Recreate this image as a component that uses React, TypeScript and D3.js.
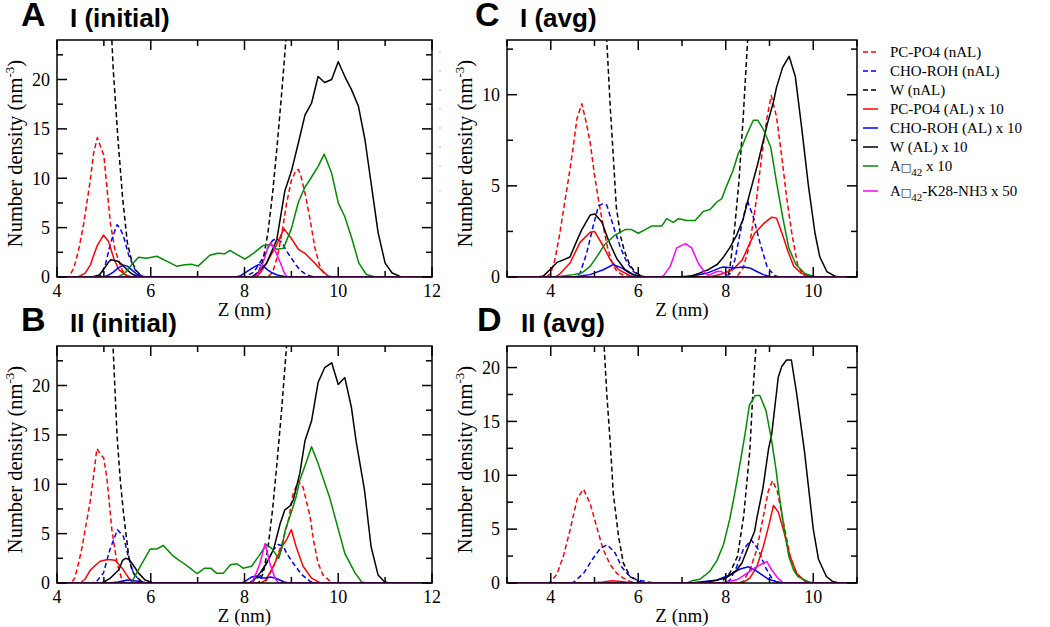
import React from 'react';
import * as d3 from 'd3';

type Pts = [number, number][];

// ---------- Panel A : I (initial) ----------
const A_pcNAL: Pts = [[4,0],[4.25,0],[4.36,0.9],[4.46,2.7],[4.57,5.4],[4.71,9.8],[4.78,12.5],[4.86,14.1],[4.93,13.2],[5.0,12.3],[5.05,9.8],[5.14,5.4],[5.24,2.7],[5.39,0.7],[5.5,0],[8.5,0],[8.6,0.5],[8.7,2],[8.8,4.5],[8.9,7.5],[9.0,9.8],[9.1,10.8],[9.15,10.9],[9.2,10.3],[9.3,8.3],[9.4,5.8],[9.5,3],[9.6,1.2],[9.7,0.3],[9.8,0],[12,0]];
const A_choNAL: Pts = [[4,0],[4.9,0],[4.94,0.2],[5.04,1.4],[5.14,3.4],[5.28,5.3],[5.35,4.9],[5.42,4.1],[5.53,2.2],[5.67,0.7],[5.81,0.05],[5.9,0],[8.0,0],[8.2,0.5],[8.4,2],[8.5,3],[8.6,3.7],[8.68,3.9],[8.8,3.5],[8.9,2.6],[9.0,1.9],[9.1,1.2],[9.2,0.65],[9.3,0.3],[9.4,0.1],[9.5,0],[12,0]];
const A_wNAL: Pts = [[4.9,45],[5.0,36],[5.1,29],[5.17,24],[5.2,21],[5.3,14],[5.4,8],[5.5,3.5],[5.6,1.5],[5.7,0.6],[5.8,0.1],[5.9,0],[8.2,0],[8.3,0.5],[8.4,1.8],[8.5,4.5],[8.6,8.5],[8.7,13.5],[8.8,19],[8.9,25],[9.0,32]];
const A_pcAL: Pts = [[4,0],[4.45,0],[4.6,0.4],[4.71,1.2],[4.85,3.1],[4.99,4.25],[5.1,3.6],[5.21,1.9],[5.32,0.74],[5.46,0.2],[5.6,0],[8.25,0],[8.35,0.5],[8.47,1.4],[8.69,3.3],[8.84,4.9],[9.0,3.9],[9.15,2.8],[9.29,2.4],[9.47,1.55],[9.65,0.64],[9.79,0.1],[9.9,0],[12,0]];
const A_choAL: Pts = [[4,0],[5.0,0],[5.1,0.2],[5.2,0.5],[5.3,0.9],[5.42,1.2],[5.5,1.1],[5.6,0.7],[5.7,0.3],[5.8,0.05],[5.9,0],[7.8,0],[7.9,0.1],[8.0,0.4],[8.1,0.7],[8.2,1.0],[8.3,1.25],[8.4,1.1],[8.5,0.7],[8.6,0.4],[8.7,0.2],[8.8,0.1],[8.9,0],[12,0]];
const A_wAL: Pts = [[4,0],[4.75,0],[4.9,0.2],[5.0,0.8],[5.1,1.5],[5.15,1.75],[5.3,1.6],[5.4,1.2],[5.5,0.7],[5.6,0.3],[5.7,0.1],[5.8,0],[8.15,0],[8.3,0.5],[8.47,1.4],[8.69,3.8],[8.86,8.7],[9.0,10.7],[9.15,13.6],[9.29,16.4],[9.43,17.6],[9.57,20.3],[9.71,19.7],[9.86,20.0],[10.0,21.8],[10.14,20.3],[10.28,19.0],[10.43,17.3],[10.57,13.9],[10.71,9.2],[10.85,4.5],[11.0,1.4],[11.15,0.4],[11.32,0.05],[11.4,0],[12,0]];
const A_green: Pts = [[4,0],[5.3,0],[5.45,0.4],[5.6,1.3],[5.74,2.0],[5.91,1.9],[6.13,2.1],[6.34,1.6],[6.55,1.1],[6.73,1.25],[6.87,1.3],[7.01,1.1],[7.26,2.2],[7.43,2.4],[7.58,2.35],[7.69,2.7],[7.83,2.3],[8.01,1.8],[8.19,2.4],[8.4,3.2],[8.55,3.3],[8.69,2.8],[8.83,2.9],[9.0,4.9],[9.15,7.6],[9.29,9.1],[9.4,9.9],[9.57,11.2],[9.7,12.45],[9.86,10.5],[10.0,7.5],[10.14,6.1],[10.29,3.9],[10.44,1.4],[10.6,0.25],[10.75,0.05],[10.9,0],[12,0]];
const A_mag: Pts = [[4,0],[8.2,0],[8.3,0.4],[8.4,1.5],[8.5,3.0],[8.56,3.5],[8.65,2.7],[8.76,1.5],[8.86,0.3],[8.92,0],[12,0]];

// ---------- Panel B : II (initial) ----------
const B_pcNAL: Pts = [[4,0],[4.3,0],[4.38,0.5],[4.46,2.0],[4.53,3.5],[4.6,5.4],[4.7,8.0],[4.78,10.8],[4.85,13.6],[4.92,13.1],[5.0,12.6],[5.07,10.4],[5.17,5.4],[5.28,2.0],[5.38,0.4],[5.45,0],[8.4,0],[8.47,0.3],[8.62,1.7],[8.8,4.0],[8.94,6.4],[9.04,9.1],[9.15,10.3],[9.25,9.7],[9.4,6.7],[9.47,4.4],[9.57,2.0],[9.67,0.85],[9.83,0.16],[9.9,0],[12,0]];
const B_choNAL: Pts = [[4,0],[4.75,0],[4.85,0.2],[4.99,1.0],[5.13,3.4],[5.29,5.4],[5.42,4.7],[5.52,2.7],[5.63,1.0],[5.77,0.2],[5.9,0],[8.1,0],[8.19,0.2],[8.33,0.7],[8.47,2.0],[8.62,3.4],[8.72,3.9],[8.83,3.7],[8.9,3.0],[9.04,2.0],[9.22,0.85],[9.4,0.16],[9.5,0],[12,0]];
const B_wNAL: Pts = [[4.9,48],[5.0,40],[5.1,31],[5.2,23.5],[5.28,15],[5.35,10.4],[5.42,7.0],[5.53,2.7],[5.6,1.3],[5.67,0.7],[5.8,0.2],[5.9,0],[8.3,0],[8.4,1.0],[8.5,3.5],[8.6,7.5],[8.7,12.5],[8.8,18],[8.9,24.2],[9.0,31]];
const B_pcAL: Pts = [[4,0],[4.5,0],[4.6,0.4],[4.71,1.3],[4.82,1.8],[4.92,2.2],[5.06,2.35],[5.15,2.35],[5.24,2.3],[5.39,1.5],[5.53,0.5],[5.65,0],[8.35,0],[8.45,0.3],[8.62,1.7],[8.8,3.7],[8.9,4.4],[9.0,5.4],[9.1,3.7],[9.25,1.7],[9.43,0.5],[9.6,0.06],[9.7,0],[12,0]];
const B_choAL: Pts = [[4,0],[5.1,0],[5.3,0.1],[5.5,0.3],[5.7,0.2],[5.9,0],[7.95,0],[8.05,0.3],[8.15,0.6],[8.25,0.7],[8.35,0.5],[8.45,0.5],[8.55,0.6],[8.65,0.5],[8.75,0.3],[8.85,0.1],[8.95,0],[12,0]];
const B_wAL: Pts = [[4,0],[4.95,0],[5.0,0.1],[5.14,0.5],[5.32,1.34],[5.4,2.3],[5.46,2.5],[5.53,2.4],[5.6,2.0],[5.74,1.0],[5.88,0.3],[6.03,0.05],[6.1,0],[8.1,0],[8.2,0.3],[8.33,1.0],[8.47,2.0],[8.62,3.4],[8.76,6.0],[8.86,7.4],[8.97,7.8],[9.04,8.4],[9.18,11.1],[9.29,14.4],[9.43,16.4],[9.57,20.3],[9.71,21.8],[9.86,22.3],[10.0,20.1],[10.14,20.8],[10.28,17.8],[10.38,14.4],[10.56,9.4],[10.7,3.7],[10.85,0.8],[10.99,0.1],[11.1,0],[12,0]];
const B_green: Pts = [[4,0],[5.56,0],[5.6,0.16],[5.78,1.7],[5.99,3.45],[6.13,3.45],[6.27,3.8],[6.45,2.85],[6.59,2.35],[6.7,2.0],[6.84,1.5],[6.99,0.94],[7.15,1.5],[7.28,1.5],[7.4,1.0],[7.55,1.0],[7.7,1.85],[7.84,1.95],[7.97,1.5],[8.15,1.7],[8.3,2.7],[8.47,3.9],[8.58,3.5],[8.73,2.5],[8.8,3.6],[8.87,5.4],[9.0,7.2],[9.1,8.7],[9.18,10.4],[9.3,12.0],[9.43,13.8],[9.57,12.1],[9.82,8.6],[10.14,3.0],[10.36,1.0],[10.5,0.1],[10.6,0],[12,0]];
const B_mag: Pts = [[4,0],[8.15,0],[8.25,1.0],[8.33,2.0],[8.44,4.0],[8.54,2.0],[8.65,0.5],[8.72,0],[12,0]];

// ---------- Panel C : I (avg) ----------
const C_pcNAL: Pts = [[3,0],[3.9,0],[4.0,0.2],[4.1,1.0],[4.2,2.3],[4.3,3.8],[4.4,5.3],[4.5,6.9],[4.6,8.7],[4.71,9.5],[4.8,8.6],[4.9,7.4],[5.0,5.6],[5.1,4.1],[5.2,2.8],[5.3,1.6],[5.4,0.8],[5.5,0.35],[5.65,0.1],[5.85,0],[8.25,0],[8.4,0.5],[8.55,1.8],[8.71,4.4],[8.82,6.6],[8.94,8.7],[9.04,9.95],[9.16,8.8],[9.28,6.6],[9.39,4.4],[9.51,2.4],[9.64,0.7],[9.77,0.1],[9.9,0],[11,0]];
const C_choNAL: Pts = [[3,0],[4.55,0],[4.67,0.2],[4.82,1.3],[4.97,2.8],[5.09,3.9],[5.17,4.0],[5.28,3.95],[5.43,2.8],[5.58,1.7],[5.74,0.8],[5.89,0.3],[6.04,0.07],[6.15,0],[8.0,0],[8.1,0.2],[8.21,0.95],[8.36,2.8],[8.49,4.2],[8.63,3.3],[8.78,1.9],[8.94,0.6],[9.09,0.13],[9.2,0],[11,0]];
const C_wNAL: Pts = [[5.0,25],[5.1,20],[5.2,16],[5.28,13],[5.36,9.3],[5.42,7],[5.5,3.8],[5.6,2.2],[5.68,1.45],[5.8,0.7],[5.9,0.35],[6.0,0.15],[6.15,0],[8.05,0],[8.1,0.6],[8.2,2.6],[8.3,5.2],[8.4,8.8],[8.5,13],[8.6,18],[8.7,24]];
const C_pcAL: Pts = [[3,0],[4.1,0],[4.2,0.15],[4.44,0.77],[4.67,1.9],[4.9,2.46],[5.0,2.5],[5.2,1.7],[5.36,0.95],[5.55,0.4],[5.81,0.07],[6.0,0],[7.6,0],[7.8,0.1],[7.95,0.2],[8.16,0.4],[8.38,0.95],[8.52,1.7],[8.66,2.4],[8.88,2.96],[9.05,3.28],[9.16,3.23],[9.3,2.3],[9.41,1.5],[9.55,0.6],[9.73,0.2],[9.93,0.04],[10.05,0],[11,0]];
const C_choAL: Pts = [[3,0],[4.5,0],[4.9,0.13],[5.2,0.4],[5.43,0.68],[5.62,0.5],[5.81,0.2],[6.0,0.04],[6.1,0],[7.1,0],[7.56,0.2],[7.87,0.5],[7.95,0.55],[8.17,0.5],[8.4,0.55],[8.55,0.5],[8.71,0.3],[8.86,0.13],[9.0,0.03],[9.1,0],[11,0]];
const C_wAL: Pts = [[3,0],[3.7,0],[3.83,0.05],[3.98,0.4],[4.14,0.8],[4.3,0.95],[4.44,1.1],[4.58,1.9],[4.71,2.6],[4.9,3.4],[5.01,3.45],[5.17,3.0],[5.32,2.0],[5.51,1.0],[5.7,0.4],[5.89,0.13],[6.12,0],[6.9,0],[7.2,0.05],[7.38,0.2],[7.6,0.4],[7.81,0.7],[7.95,1.1],[8.09,1.6],[8.25,2.3],[8.4,3.2],[8.55,4.6],[8.73,6.2],[8.86,7.5],[8.95,8.4],[9.09,9.6],[9.16,10.4],[9.3,11.5],[9.45,12.1],[9.59,11.0],[9.74,8.1],[9.89,5.0],[10.04,2.4],[10.15,1.1],[10.31,0.3],[10.5,0.04],[10.6,0],[11,0]];
const C_green: Pts = [[3,0],[4.1,0],[4.52,0.13],[4.71,0.22],[4.9,0.58],[5.05,1.1],[5.24,1.8],[5.47,2.3],[5.7,2.6],[5.85,2.6],[6.0,2.4],[6.16,2.6],[6.31,2.8],[6.54,2.8],[6.65,3.2],[6.8,3.0],[6.92,3.2],[7.11,3.1],[7.3,3.1],[7.49,3.6],[7.64,3.7],[7.79,4.1],[7.91,4.3],[8.02,5.0],[8.16,5.8],[8.29,6.8],[8.38,7.2],[8.48,7.8],[8.63,8.6],[8.73,8.6],[8.86,8.1],[9.03,7.1],[9.16,5.2],[9.3,3.3],[9.44,1.6],[9.6,0.7],[9.8,0.2],[10.0,0.04],[10.1,0],[11,0]];
const C_mag: Pts = [[3,0],[6.5,0],[6.57,0.05],[6.73,0.58],[6.88,1.6],[7.0,1.75],[7.09,1.82],[7.22,1.6],[7.37,0.77],[7.53,0.22],[7.6,0.08],[7.7,0.2],[7.8,0.3],[7.9,0.3],[8.0,0.15],[8.1,0],[11,0]];

// ---------- Panel D : II (avg) ----------
const D_pcNAL: Pts = [[3,0],[3.9,0],[3.98,0.06],[4.14,0.8],[4.29,2.5],[4.44,4.9],[4.61,7.9],[4.75,8.7],[4.9,7.4],[5.05,5.2],[5.2,3.1],[5.36,1.7],[5.51,0.9],[5.66,0.46],[5.81,0.15],[5.96,0],[8.3,0],[8.4,0.15],[8.55,1.2],[8.71,3.1],[8.86,6.2],[8.97,8.5],[9.07,9.5],[9.18,8.5],[9.32,5.6],[9.47,2.5],[9.62,0.9],[9.81,0.15],[10.0,0],[11,0]];
const D_choNAL: Pts = [[3,0],[4.45,0],[4.52,0.06],[4.75,0.9],[4.97,2.3],[5.13,3.2],[5.29,3.55],[5.47,2.8],[5.62,1.5],[5.77,0.77],[5.96,0.3],[6.27,0.06],[6.5,0],[8.0,0],[8.1,0.3],[8.25,1.5],[8.4,3.1],[8.58,4.0],[8.75,3.1],[8.9,1.5],[9.05,0.46],[9.16,0.06],[9.25,0],[11,0]];
const D_wNAL: Pts = [[5.0,36],[5.1,29],[5.22,22],[5.28,17.6],[5.36,13],[5.43,8.3],[5.55,4.3],[5.66,1.85],[5.81,0.6],[6.0,0.15],[6.2,0],[7.9,0],[7.95,0.3],[8.09,0.9],[8.27,2.5],[8.41,6.2],[8.55,12.3],[8.62,17.6],[8.69,21.9],[8.75,26]];
const D_pcAL: Pts = [[3,0],[4.9,0],[5.2,0.1],[5.4,0.2],[5.6,0.15],[5.9,0],[8.3,0],[8.4,0.06],[8.55,0.46],[8.71,1.5],[8.86,3.4],[9.0,5.6],[9.09,7.2],[9.2,6.6],[9.32,4.9],[9.47,2.5],[9.62,0.9],[9.77,0.3],[9.93,0],[11,0]];
const D_choAL: Pts = [[3,0],[7.18,0],[7.79,0.25],[8.1,0.77],[8.33,1.3],[8.52,1.5],[8.67,1.2],[8.82,0.77],[8.97,0.37],[9.13,0.15],[9.32,0],[11,0]];
const D_wAL: Pts = [[3,0],[7.4,0],[7.49,0.06],[7.79,0.25],[8.02,0.5],[8.25,1.2],[8.37,1.85],[8.55,3.7],[8.66,4.8],[8.71,6.0],[8.85,8.8],[8.98,12.5],[9.05,13.8],[9.2,19.1],[9.28,20.1],[9.39,20.7],[9.5,20.7],[9.62,17.6],[9.8,12.2],[10.0,5.0],[10.12,2.2],[10.3,0.6],[10.44,0.15],[10.6,0],[11,0]];
const D_green: Pts = [[3,0],[7.1,0],[7.23,0.2],[7.41,0.35],[7.52,0.7],[7.64,1.1],[7.8,2.1],[7.95,3.6],[8.09,5.9],[8.2,8.2],[8.33,11.2],[8.44,13.8],[8.54,16.5],[8.67,17.4],[8.78,17.4],[8.92,16.0],[9.05,13.2],[9.15,10.5],[9.22,8.2],[9.31,5.7],[9.44,2.5],[9.55,1.2],[9.65,0.6],[9.87,0.15],[10.0,0],[11,0]];
const D_mag: Pts = [[3,0],[7.85,0],[8.0,0.1],[8.25,0.3],[8.37,0.6],[8.48,0.9],[8.66,1.4],[8.8,1.7],[8.94,2.0],[9.05,1.2],[9.19,0.46],[9.3,0.06],[9.35,0],[11,0]];

// ---------- legend / styles ----------
const LEGEND_LABELS = ['PC-PO4 (nAL)', 'CHO-ROH (nAL)', 'W (nAL)', 'PC-PO4 (AL) x 10', 'CHO-ROH (AL) x 10', 'W (AL) x 10', 'A\u25A142 x 10', 'A\u25A142-K28-NH3 x 50'];
const SERIES_COLORS = ['#ff0000', '#0000ff', '#000000', '#ff0000', '#0000ff', '#000000', '#008c00', '#ff00ff'];
const SERIES_DASHED = [true, true, true, false, false, false, false, false];

const X_TICKS_AB = [4, 6, 8, 10, 12];
const X_MINOR_AB = [5, 7, 9, 11];
const X_TICKS_CD = [4, 6, 8, 10];
const X_MINOR_CD = [3, 5, 7, 9, 11];
const Y_TICKS_AB = [0, 5, 10, 15, 20];
const Y_MINOR_AB = [2.5, 7.5, 12.5, 17.5, 22.5];
const Y_TICKS_C = [0, 5, 10];
const Y_MINOR_C = [2.5, 7.5, 12.5];
const Y_TICKS_D = [0, 5, 10, 15, 20];
const Y_MINOR_D = [2.5, 7.5, 12.5, 17.5];

interface PanelDef {
  id: string; letter: string; title: string;
  left: number; top: number; right: number; bottom: number;
  xDomain: [number, number]; yDomain: [number, number];
  xMajor: number[]; xMinor: number[]; yMajor: number[]; yMinor: number[];
  series: Pts[];
  letterX: number; titleX: number; headY: number;
}

const PANELS: PanelDef[] = [
  { id: 'A', letter: 'A', title: 'I (initial)', left: 57, top: 40, right: 432, bottom: 277, xDomain: [4, 12], yDomain: [0, 24],
    xMajor: X_TICKS_AB, xMinor: X_MINOR_AB, yMajor: Y_TICKS_AB, yMinor: Y_MINOR_AB,
    series: [A_pcNAL, A_choNAL, A_wNAL, A_pcAL, A_choAL, A_wAL, A_green, A_mag], letterX: 21, titleX: 70, headY: 26 },
  { id: 'B', letter: 'B', title: 'II (initial)', left: 57, top: 346, right: 432, bottom: 583, xDomain: [4, 12], yDomain: [0, 24],
    xMajor: X_TICKS_AB, xMinor: X_MINOR_AB, yMajor: Y_TICKS_AB, yMinor: Y_MINOR_AB,
    series: [B_pcNAL, B_choNAL, B_wNAL, B_pcAL, B_choAL, B_wAL, B_green, B_mag], letterX: 21, titleX: 70, headY: 331 },
  { id: 'C', letter: 'C', title: 'I (avg)', left: 507, top: 40, right: 857, bottom: 277, xDomain: [3, 11], yDomain: [0, 13],
    xMajor: X_TICKS_CD, xMinor: X_MINOR_CD, yMajor: Y_TICKS_C, yMinor: Y_MINOR_C,
    series: [C_pcNAL, C_choNAL, C_wNAL, C_pcAL, C_choAL, C_wAL, C_green, C_mag], letterX: 475, titleX: 520, headY: 26 },
  { id: 'D', letter: 'D', title: 'II (avg)', left: 507, top: 346, right: 857, bottom: 583, xDomain: [3, 11], yDomain: [0, 22],
    xMajor: X_TICKS_CD, xMinor: X_MINOR_CD, yMajor: Y_TICKS_D, yMinor: Y_MINOR_D,
    series: [D_pcNAL, D_choNAL, D_wNAL, D_pcAL, D_choAL, D_wAL, D_green, D_mag], letterX: 477, titleX: 521, headY: 331 },
];

const SERIF = '"Liberation Serif", "Times New Roman", serif';
const SANS = '"Liberation Sans", Arial, sans-serif';

function Panel({ p }: { p: PanelDef }) {
  const x = d3.scaleLinear().domain(p.xDomain).range([p.left, p.right]);
  const y = d3.scaleLinear().domain(p.yDomain).range([p.bottom, p.top]);
  const line = d3.line<[number, number]>().x(d => x(d[0])).y(d => y(d[1]));
  const MAJ = 10, MIN = 6;
  const cx = (p.left + p.right) / 2;
  const cy = (p.top + p.bottom) / 2 - 5;
  return (
    <g>
      <defs>
        <clipPath id={'clip' + p.id}>
          <rect x={p.left} y={p.top} width={p.right - p.left} height={p.bottom - p.top} />
        </clipPath>
      </defs>
      <text x={p.letterX} y={p.headY} fontFamily={SANS} fontWeight="bold" fontSize={34}>{p.letter}</text>
      <text x={p.titleX} y={p.headY + 1} fontFamily={SANS} fontWeight="bold" fontSize={26}>{p.title}</text>
      <g clipPath={`url(#clip${p.id})`}>
        {p.series.map((s, i) => (
          <path key={i} d={line(s) || ''} fill="none" stroke={SERIES_COLORS[i]} strokeWidth={1.5}
            strokeDasharray={SERIES_DASHED[i] ? '5,3' : undefined} strokeLinejoin="round" />
        ))}
      </g>
      {p.xMajor.map(t => (
        <g key={'xM' + t}>
          <line x1={x(t)} x2={x(t)} y1={p.bottom} y2={p.bottom - MAJ} stroke="#000" strokeWidth={1.5} />
          <line x1={x(t)} x2={x(t)} y1={p.top} y2={p.top + MAJ} stroke="#000" strokeWidth={1.5} />
          <text x={x(t)} y={p.bottom + 20} textAnchor="middle" fontFamily={SERIF} fontSize={18}>{t}</text>
        </g>
      ))}
      {p.xMinor.map(t => (
        <g key={'xm' + t}>
          <line x1={x(t)} x2={x(t)} y1={p.bottom} y2={p.bottom - MIN} stroke="#000" strokeWidth={1.5} />
          <line x1={x(t)} x2={x(t)} y1={p.top} y2={p.top + MIN} stroke="#000" strokeWidth={1.5} />
        </g>
      ))}
      {p.yMajor.map(t => (
        <g key={'yM' + t}>
          <line x1={p.left} x2={p.left + MAJ} y1={y(t)} y2={y(t)} stroke="#000" strokeWidth={1.5} />
          <line x1={p.right} x2={p.right - MAJ} y1={y(t)} y2={y(t)} stroke="#000" strokeWidth={1.5} />
          <text x={p.left - 7} y={y(t)} dy="0.35em" textAnchor="end" fontFamily={SERIF} fontSize={18}>{t}</text>
        </g>
      ))}
      {p.yMinor.map(t => (
        <g key={'ym' + t}>
          <line x1={p.left} x2={p.left + MIN} y1={y(t)} y2={y(t)} stroke="#000" strokeWidth={1.5} />
          <line x1={p.right} x2={p.right - MIN} y1={y(t)} y2={y(t)} stroke="#000" strokeWidth={1.5} />
        </g>
      ))}
      <rect x={p.left} y={p.top} width={p.right - p.left} height={p.bottom - p.top} fill="none" stroke="#000" strokeWidth={1.5} />
      <text x={cx} y={p.bottom + 39} textAnchor="middle" fontFamily={SERIF} fontSize={19}>Z (nm)</text>
      <text transform={`translate(${p.left - 35},${cy}) rotate(-90)`} textAnchor="middle" fontFamily={SERIF} fontSize={20.5}>
        Number density (nm<tspan dy="-8" fontSize={13}>-3</tspan><tspan dy="8">)</tspan>
      </text>
    </g>
  );
}

function Legend() {
  const rows = [52, 71, 90, 109, 128, 147, 166, 191];
  return (
    <g>
      {LEGEND_LABELS.map((lab, i) => {
        const y = rows[i];
        const isAb = lab.startsWith('A\u25A142');
        return (
          <g key={i}>
            <line x1={863} x2={878} y1={y} y2={y} stroke={SERIES_COLORS[i]} strokeWidth={1.5}
              strokeDasharray={SERIES_DASHED[i] ? '5,3' : undefined} />
            <line x1={439} x2={441} y1={y} y2={y} stroke={SERIES_COLORS[i]} strokeWidth={1} opacity={0.35} />
            <text x={890} y={y} dy="0.35em" fontFamily={SERIF} fontSize={15}>
              {isAb ? (
                <>
                  A<tspan fontFamily="DejaVu Sans" fontSize={11}>{'\u25A1'}</tspan>
                  <tspan dy="5" fontSize={11}>42</tspan>
                  <tspan dy="-5">{lab.slice(4)}</tspan>
                </>
              ) : lab}
            </text>
          </g>
        );
      })}
    </g>
  );
}

export default function App() {
  return (
    <svg width={1050} height={627} style={{ position: 'absolute', left: 0, top: 0, background: '#fff' }}>
      <rect x={0} y={0} width={1050} height={627} fill="#fff" />
      {PANELS.map(p => <Panel key={p.id} p={p} />)}
      <Legend />
    </svg>
  );
}
